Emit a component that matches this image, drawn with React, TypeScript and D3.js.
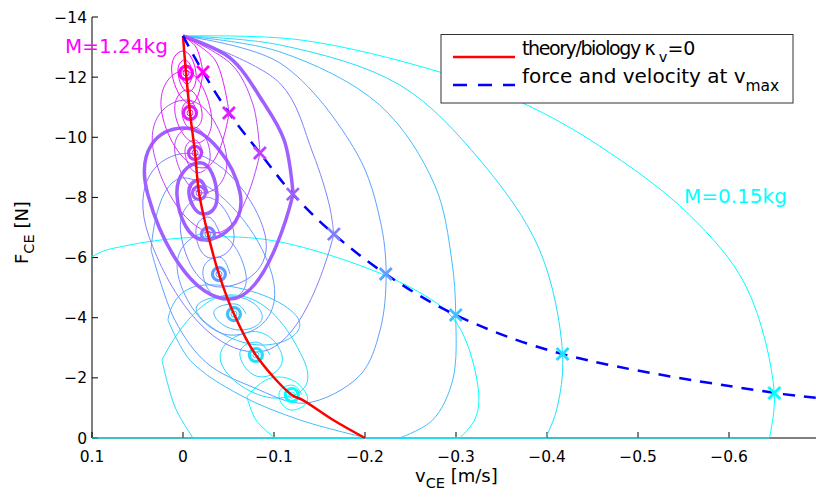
import React from 'react';
import * as d3 from 'd3';

type Pt = [number, number];

const W = 816;
const H = 498;

// masses, from light to heavy, and their colours (cool colormap)
const massLabels = ['M=0.15kg', 'M=1.24kg'];
const massColors = ['#00ffff', '#20dfff', '#40bfff', '#609fff', '#8080ff', '#9f60ff', '#bf40ff', '#df20ff', '#ff00ff'];

// equilibrium points (v, F) where each spiral ends
const eqV = [-0.1196, -0.0801, -0.056, -0.0395, -0.0274, -0.0176, -0.0132, -0.0077, -0.0033];
const eqF = [-1.43, -2.76, -4.12, -5.45, -6.78, -8.15, -9.48, -10.81, -12.14];

// force and velocity at v_max (the crosses)
const vmaxV = [-0.6498, -0.4171, -0.2997, -0.2228, -0.1658, -0.1207, -0.0845, -0.0505, -0.022];
const vmaxF = [-1.5, -2.79, -4.09, -5.45, -6.78, -8.11, -9.48, -10.81, -12.17];

// dashed curve through the v_max points
const dashV = [0, -0.022, -0.0505, -0.0845, -0.1207, -0.1658, -0.2228, -0.2997, -0.4171, -0.6498, -0.7];
const dashF = [-13.37, -12.17, -10.81, -9.48, -8.11, -6.78, -5.45, -4.09, -2.79, -1.5, -1.33];

// theory/biology force-velocity relation
const hillV = [0, -0.0033, -0.0077, -0.0132, -0.0176, -0.0274, -0.0395, -0.056, -0.08, -0.1196, -0.1317, -0.165, -0.2];
const hillF = [-13.37, -12.14, -10.81, -9.48, -8.15, -6.78, -5.45, -4.12, -2.76, -1.43, -1.26, -0.6, 0];

// trajectories: open runs (incl. slack phases at F=0) ...
const traj0: Pt[][] = [
  [[0, -13.37], [-0.1284, -13.24], [-0.2821, -12.17], [-0.3732, -11.14], [-0.4577, -9.71], [-0.5565, -7.42], [-0.6191, -5.02], [-0.6498, -1.5], [-0.6443, 0]],
  [[-0.6443, 0], [0.1196, 0]],
  [[0.1196, 0], [0.1328, -4.59], [0.0999, -6.02], [0.0582, -6.42], [-0.0187, -6.68], [-0.1065, -6.52], [-0.2492, -5.02], [-0.3008, -3.82], [-0.3249, -1.5], [-0.3205, -0.6], [-0.3041, 0]],
  [[-0.3041, 0], [-0.101, 0]],
  [[-0.101, 0], [-0.0801, -0.6], [-0.0703, -1.36]],
];
const traj1: Pt[][] = [
  [[0, -13.37], [-0.1065, -13.07], [-0.2382, -11.74], [-0.326, -9.25], [-0.3919, -6.25], [-0.4171, -2.79], [-0.4105, -0.93], [-0.3985, 0]],
  [[-0.3985, 0], [-0.011, 0]],
  [[-0.011, 0], [0.0088, -1.03], [0.0231, -2.59]],
];
const traj2: Pt[][] = [
  [[0, -13.37], [-0.1065, -12.84], [-0.2162, -11.07], [-0.2766, -8.41], [-0.2953, -5.92], [-0.2997, -4.09], [-0.2964, -1.93], [-0.2744, -0.6], [-0.2382, 0]],
  [[-0.2382, 0], [-0.202, 0]],
  [[-0.202, 0], [-0.1284, -0.6], [-0.0626, -1.43], [-0.0077, -2.59], [0.0165, -3.92]],
];
const traj3: Pt[][] = [
  [[0, -13.37], [-0.1065, -12.47], [-0.191, -9.47], [-0.2166, -7.25], [-0.2232, -5.45], [-0.2166, -3.59], [-0.1946, -2.09], [-0.1341, -1.16], [-0.0769, -1.69], [-0.0263, -2.49], [0.0089, -3.92], [0.0351, -6.25]],
];
const traj4: Pt[][] = [[[0, -13.37], [-0.1064, -11.8], [-0.1427, -9.47], [-0.1613, -7.68], [-0.1657, -6.78]]];
const traj5: Pt[][] = [[[0, -13.37], [-0.0516, -12.64], [-0.0879, -11.18], [-0.1111, -9.91], [-0.121, -8.12]]];
const traj6: Pt[][] = [[[0, -13.37], [-0.0538, -12.41], [-0.077, -11.08], [-0.0846, -9.48]]];
const traj7: Pt[][] = [[[0, -13.37], [-0.0352, -12.57], [-0.0506, -10.81]]];
const traj8: Pt[][] = [[[0, -13.37], [-0.0143, -13.0], [-0.022, -12.15]]];

// ... and the damped loops around each equilibrium (right, bottom, left, top, ...)
const spiral0: Pt[] = [[-0.0703, -1.36], [-0.1032, -2.03], [-0.1361, -1.43], [-0.1196, -0.93], [-0.1054, -1.43], [-0.1196, -1.76], [-0.1306, -1.43]];
const spiral1: Pt[] = [[0.0231, -2.59], [-0.0516, -4.76], [-0.1317, -2.66], [-0.1065, -1.33], [-0.0428, -2.43], [-0.0735, -3.53], [-0.1087, -2.76], [-0.0867, -2.03], [-0.0626, -2.73], [-0.0801, -3.19], [-0.0955, -2.76]];
const spiral2: Pt[] = [[0.0165, -3.92], [-0.0241, -5.09], [-0.1229, -4.12], [-0.0867, -3.09], [-0.0165, -4.12], [-0.0516, -4.72], [-0.0867, -4.12], [-0.0626, -3.59], [-0.034, -4.12], [-0.056, -4.46], [-0.0691, -4.12]];
const spiral3: Pt[] = [[0.0351, -6.25], [-0.0054, -8.64], [-0.0977, -5.45], [-0.0538, -3.42], [0.0056, -5.45], [-0.0318, -6.85], [-0.0691, -5.45], [-0.045, -4.59], [-0.0219, -5.45], [-0.0395, -6.02], [-0.0516, -5.45]];
const spiral4: Pt[] = [[-0.1657, -6.78], [-0.0813, -2.86], [0.0375, -6.71], [-0.0054, -9.47], [-0.09, -6.78], [-0.0406, -5.02], [0.0023, -6.78], [-0.0252, -8.01], [-0.056, -6.78], [-0.0318, -5.98], [-0.0142, -6.78], [-0.0274, -7.35], [-0.0406, -6.78]];
const spiral5: Pt[] = [[-0.121, -8.12], [-0.0516, -4.62], [0.0385, -8.08], [0, -10.31], [-0.0627, -8.15], [-0.0242, -6.59], [0.0066, -8.08], [-0.0187, -9.15], [-0.0374, -8.08], [-0.022, -7.45], [-0.0066, -8.12], [-0.0176, -8.58], [-0.0264, -8.12]];
const spiral6: Pt[] = [[-0.0846, -9.48], [-0.0363, -6.82], [0.0319, -9.45], [-0.0033, -11.24], [-0.0473, -9.48], [-0.022, -8.15], [0.0088, -9.48], [-0.011, -10.34], [-0.0297, -9.48], [-0.0165, -8.82], [-0.0022, -9.48], [-0.0132, -9.91], [-0.022, -9.48]];
const spiral7: Pt[] = [[-0.0506, -10.81], [-0.022, -8.98], [0.0231, -10.78], [-0.0011, -12.21], [-0.0308, -10.81], [-0.0143, -9.81], [0.0088, -10.81], [-0.0055, -11.58], [-0.0209, -10.81], [-0.0099, -10.28], [0.0011, -10.81], [-0.0077, -11.21], [-0.0154, -10.81]];
const spiral8: Pt[] = [[-0.022, -12.15], [-0.0088, -11.11], [0.0121, -12.11], [0, -12.87], [-0.0143, -12.14], [-0.0055, -11.51], [0.0055, -12.14], [-0.0022, -12.57], [-0.0099, -12.14], [-0.0044, -11.77], [0.0022, -12.14], [-0.0033, -12.41], [-0.0099, -12.14]];

const trajectories = [traj0, traj1, traj2, traj3, traj4, traj5, traj6, traj7, traj8];
const spirals = [spiral0, spiral1, spiral2, spiral3, spiral4, spiral5, spiral6, spiral7, spiral8];

const yTicks = [0, -2, -4, -6, -8, -10, -12, -14];
const xTicks = [0.1, 0, -0.1, -0.2, -0.3, -0.4, -0.5, -0.6];

const fmt = (n: number) => (n < 0 ? '\u2212' + String(-n) : String(n));

const FONT = 'DejaVu Sans, sans-serif';

export default function App() {
  const left = 92, top = 17, bottom = 438, right = 820;
  const x = d3.scaleLinear().domain([0.1, -0.7]).range([left, right]);
  const y = d3.scaleLinear().domain([0, -14]).range([bottom, top]);

  const smooth = d3.line<Pt>()
    .x(d => x(d[0]))
    .y(d => y(d[1]))
    .curve(d3.curveCatmullRom.alpha(0.5));
  const round = d3.line<Pt>()
    .x(d => x(d[0]))
    .y(d => y(d[1]))
    .curve(d3.curveCardinal.tension(-0.6));

  const hill: Pt[] = hillV.map((v, i) => [v, hillF[i]]);
  const dash: Pt[] = dashV.map((v, i) => [v, dashF[i]]);

  return (
    <svg width={W} height={H} style={{ position: 'absolute', left: 0, top: 0, background: '#fff' }}
      fontFamily={FONT}>
      <defs>
        <clipPath id="plotclip">
          <rect x={left} y={top - 4} width={right - left} height={bottom - top + 6} />
        </clipPath>
      </defs>

      {/* axes */}
      <line x1={left} x2={left} y1={top} y2={bottom} stroke="#000" strokeWidth={1} />
      <line x1={left} x2={W} y1={bottom} y2={bottom} stroke="#000" strokeWidth={1} />
      {yTicks.map(t => (
        <g key={'y' + t}>
          <line x1={left} x2={left + 6} y1={y(t)} y2={y(t)} stroke="#000" />
          <text x={left - 5} y={y(t) + 5.5} fontSize={15.5} textAnchor="end">{fmt(t)}</text>
        </g>
      ))}
      {xTicks.map(t => (
        <g key={'x' + t}>
          <line x1={x(t)} x2={x(t)} y1={bottom} y2={bottom - 6} stroke="#000" />
          <text x={x(t)} y={bottom + 24} fontSize={15.5} textAnchor="middle">{fmt(t)}</text>
        </g>
      ))}

      <g clipPath="url(#plotclip)" fill="none">
        {trajectories.map((segs, i) => (
          <g key={'t' + i} stroke={massColors[i]} strokeWidth={i === 5 ? 3.5 : 1}>
            {segs.map((seg, k) => <path key={k} d={smooth(seg) || ''} />)}
            <path d={round(spirals[i]) || ''} />
          </g>
        ))}
        {eqV.map((v, i) => (
          <g key={'eq' + i} stroke={massColors[i]}>
            <circle cx={x(v)} cy={y(eqF[i])} r={6.5} strokeWidth={3.2} />
            <circle cx={x(v)} cy={y(eqF[i])} r={3} strokeWidth={1} />
          </g>
        ))}
        <path d={smooth(hill) || ''} stroke="#ff0000" strokeWidth={2.5} />
        <path d={smooth(dash) || ''} stroke="#0000ff" strokeWidth={2.5} strokeDasharray="12 9" />
        {vmaxV.map((v, i) => {
          const cx = x(v), cy = y(vmaxF[i]);
          return (
            <g key={'m' + i} stroke={massColors[i]} strokeWidth={2.8}>
              <line x1={cx - 6} x2={cx + 6} y1={cy - 6} y2={cy + 6} />
              <line x1={cx - 6} x2={cx + 6} y1={cy + 6} y2={cy - 6} />
            </g>
          );
        })}
      </g>

      {/* mass labels */}
      <text x={65} y={53} fontSize={20} fill={massColors[8]}>{massLabels[1]}</text>
      <text x={684} y={203} fontSize={20} fill={massColors[0]}>{massLabels[0]}</text>

      {/* axis labels */}
      <text x={415} y={482} fontSize={18}>
        v<tspan dy={6} fontSize={14.5}>CE</tspan><tspan dy={-6}> [m/s]</tspan>
      </text>
      <text transform="translate(28,264) rotate(-90)" fontSize={18}>
        F<tspan dy={6} fontSize={14.5}>CE</tspan><tspan dy={-6}> [N]</tspan>
      </text>

      {/* legend */}
      <rect x={441} y={34.5} width={352} height={68.5} fill="#fff" stroke="#333" strokeWidth={1} />
      <line x1={453} x2={515} y1={57} y2={57} stroke="#ff0000" strokeWidth={2.5} />
      <line x1={453} x2={515} y1={85} y2={85} stroke="#0000ff" strokeWidth={2.5} strokeDasharray="14 11" />
      <text x={522} y={55} fontSize={19}>
        <tspan letterSpacing={-1.4}>theory/biology κ</tspan>
        <tspan dx={4.5} dy={7} fontSize={14.5}>v</tspan><tspan dy={-7}>=0</tspan>
      </text>
      <text x={522} y={83} fontSize={20}>
        force and velocity at v<tspan dy={8} fontSize={15.5}>max</tspan>
      </text>
    </svg>
  );
}
